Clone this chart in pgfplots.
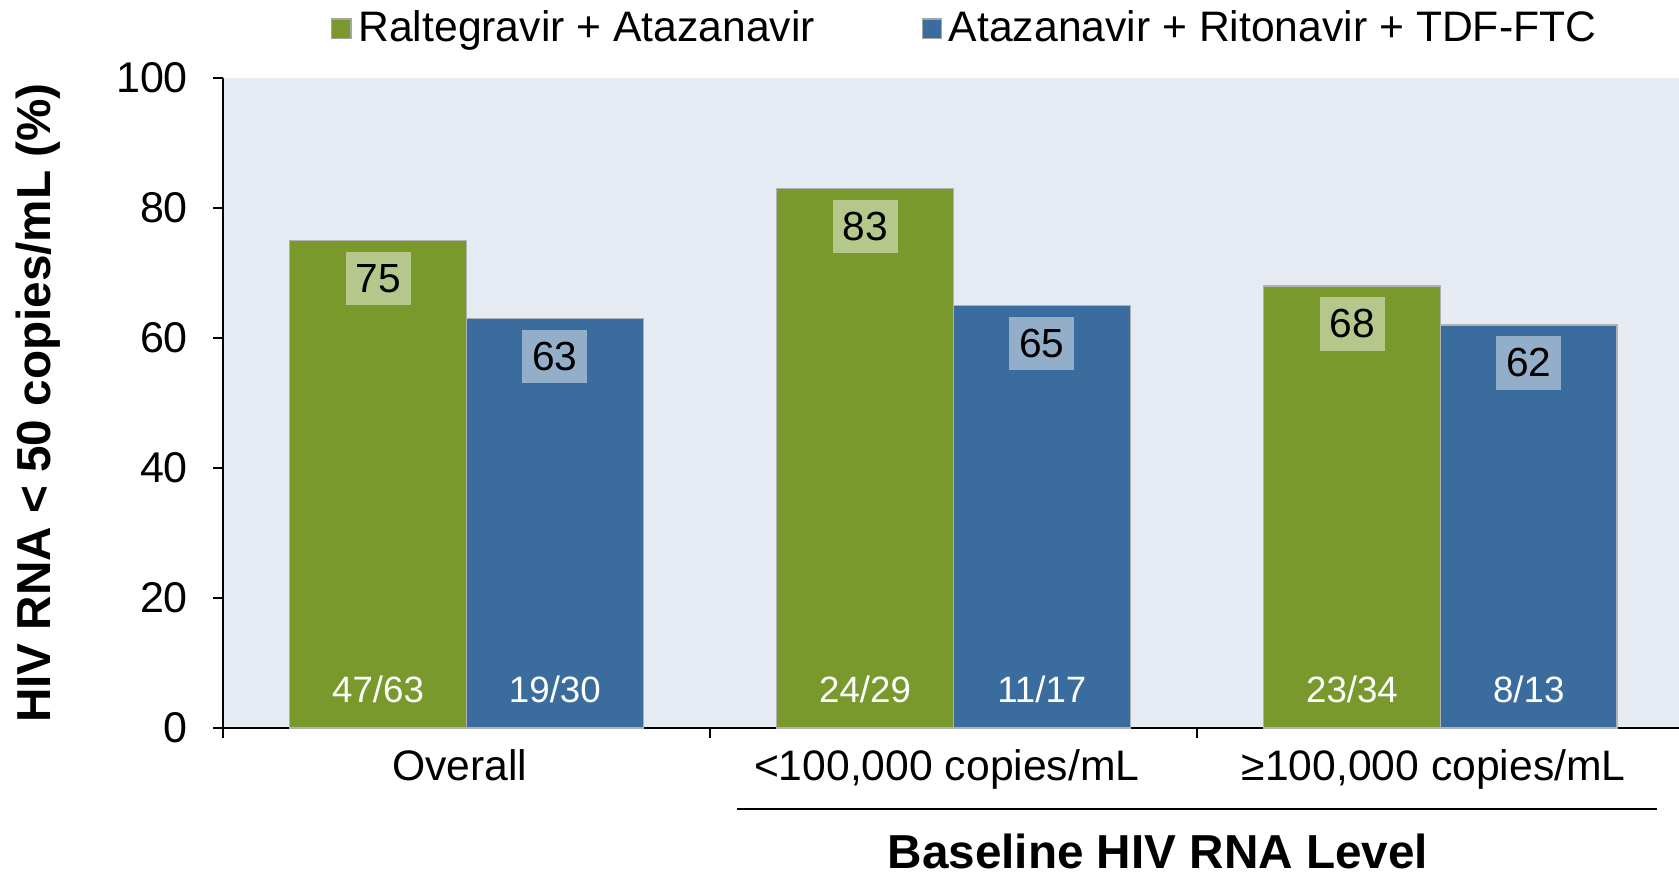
\documentclass[border=0pt]{standalone}
\usepackage{pgfplots}
\pgfplotsset{compat=1.18}
\usepackage{fontspec}
\setmainfont{Liberation Sans}
\definecolor{bargreen}{RGB}{122,153,44}
\definecolor{barblue}{RGB}{58,108,158}
\definecolor{bgc}{RGB}{230,234,242}
\begin{document}
\begin{tikzpicture}
\path[use as bounding box] (-66.9pt,-43.8pt) rectangle (436.8pt,218.4pt);
\begin{axis}[
  at={(0,0)}, anchor=south west, scale only axis,
  width=436.8pt, height=195pt,
  ymin=0, ymax=100, ytick={0,20,40,60,80,100},
  xmin=-0.5, xmax=2.49,
  axis x line=bottom, axis y line=left,
  axis line style={-, line width=0.8pt, black},
  axis background/.style={fill=bgc},
  tick align=outside, major tick length=3pt,
  tick style={line width=0.6pt, black},
  xtick={-0.5,0.5,1.5}, xticklabels={},
  extra x ticks={0,1,2},
  extra x tick labels={Overall, {<100,000 copies/mL}, {≥100,000 copies/mL}},
  extra x tick style={major tick length=0pt,
     tick label style={font=\fontsize{12.8}{15}\selectfont, yshift=-2.8pt, xshift=-2pt}},
  /pgf/number format/assume math mode=true,
  yticklabel style={font=\fontsize{12.9}{15}\selectfont, xshift=-4pt},
  ylabel={HIV RNA < 50 copies/mL (\%)},
  ylabel style={font=\bfseries\fontsize{14.3}{17}\selectfont, at={(axis description cs:-0.127,0.5)}, anchor=center, rotate=0},
  ybar, bar width=0.363,
  clip=false,
  nodes near coords,
  every node near coord/.append style={anchor=north, yshift=-3.2pt, fill=white, fill opacity=0.45, text opacity=1, text=black, inner sep=0pt, minimum width=19.5pt, minimum height=16pt, font=\fontsize{12.2}{14}\selectfont},
  legend columns=2,
  legend style={draw=none, fill=none, at={(axis description cs:0.511,1.076)}, anchor=center,
     font=\fontsize{12.8}{15}\selectfont, /tikz/every even column/.append style={column sep=30pt}},
]
\addplot[fill=bargreen, draw=black!30, bar shift=-0.1815,
  legend image code/.code={\fill[bargreen, draw=black!35] (0pt,-2.9pt) rectangle (5.8pt,2.9pt);}]
  coordinates {(0,75) (1,83) (2,68)};
\addplot[fill=barblue, draw=black!30, bar shift=0.1815,
  legend image code/.code={\fill[barblue, draw=black!35] (0pt,-2.9pt) rectangle (5.8pt,2.9pt);}]
  coordinates {(0,63) (1,65) (2,62)};
\legend{Raltegravir + Atazanavir, Atazanavir + Ritonavir + TDF-FTC}
\begin{scope}[every node/.style={text=white, font=\fontsize{11}{13}\selectfont}]
\node at (axis cs:-0.1815,5.9) {47/63};
\node at (axis cs:0.1815,5.9) {19/30};
\node at (axis cs:0.8185,5.9) {24/29};
\node at (axis cs:1.1815,5.9) {11/17};
\node at (axis cs:1.8185,5.9) {23/34};
\node at (axis cs:2.1815,5.9) {8/13};
\end{scope}
\draw[line width=0.6pt] (axis cs:0.556,-12.4) -- (axis cs:2.444,-12.4);
\node[font=\bfseries\fontsize{14.3}{17}\selectfont] at (axis cs:1.42,-19.0) {Baseline HIV RNA Level};
\end{axis}
\end{tikzpicture}
\end{document}
